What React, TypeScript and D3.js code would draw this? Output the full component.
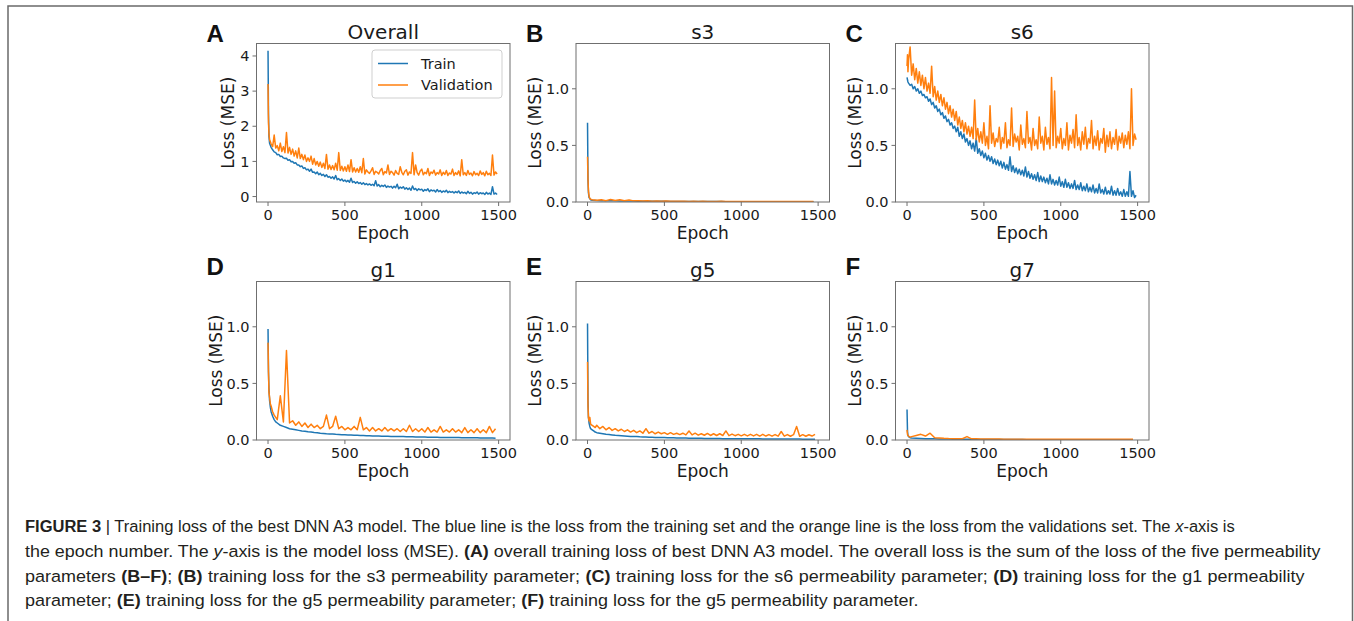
import React, { useLayoutEffect, useRef, useState } from 'react';
import * as d3 from 'd3';

// ---------- DATA ----------
const EPOCH_10 = [0, 3, 6, ...d3.range(10, 1500, 10)];
const EPOCH_20 = [0, 3, 6, 10, 15, 20, 30, 40, 50, ...d3.range(60, 1500, 20)];
const EPOCH_30 = [0, 3, 6, 10, 15, 20, ...d3.range(30, 1500, 30)];

const X_TICKS = [0, 500, 1000, 1500];
const Y_TICKS_OVERALL = [0, 1, 2, 3, 4];
const Y_TICKS_PARAM = [0, 0.5, 1.0];

const SERIES_NAMES = ['Train', 'Validation'];
const PANEL_LETTERS = ['A', 'B', 'C', 'D', 'E', 'F'];
const PANEL_TITLES = ['Overall', 's3', 's6', 'g1', 'g5', 'g7'];

const A_TRAIN = [
  4.15, 2.35, 1.72,
  1.52, 1.40, 1.33, 1.27, 1.25, 1.19, 1.20, 1.14, 1.15, 1.10,
  1.08, 1.09, 1.03, 1.05, 0.99, 1.00, 0.95, 0.96, 0.90, 0.90,
  0.85, 0.87, 0.80, 0.82, 0.76, 0.78, 0.72, 0.78, 0.69, 0.70,
  0.65, 0.70, 0.62, 0.66, 0.60, 0.63, 0.57, 0.62, 0.55, 0.57,
  0.52, 0.56, 0.50, 0.60, 0.48, 0.51, 0.46, 0.50, 0.44, 0.47,
  0.42, 0.46, 0.41, 0.52, 0.40, 0.43, 0.38, 0.42, 0.37, 0.40,
  0.35, 0.39, 0.34, 0.37, 0.33, 0.36, 0.32, 0.35, 0.31, 0.45,
  0.30, 0.34, 0.28, 0.32, 0.29, 0.33, 0.26, 0.30, 0.27, 0.29,
  0.24, 0.29, 0.25, 0.35, 0.22, 0.27, 0.24, 0.28, 0.21, 0.25,
  0.20, 0.24, 0.18, 0.30, 0.20, 0.23, 0.17, 0.22, 0.19, 0.21,
  0.15, 0.20, 0.17, 0.22, 0.14, 0.19, 0.16, 0.18, 0.13, 0.20,
  0.14, 0.17, 0.12, 0.16, 0.13, 0.18, 0.11, 0.15, 0.12, 0.14,
  0.10, 0.14, 0.11, 0.16, 0.09, 0.13, 0.10, 0.12, 0.08, 0.15,
  0.09, 0.12, 0.07, 0.11, 0.09, 0.13, 0.07, 0.11, 0.08, 0.10,
  0.06, 0.12, 0.07, 0.10, 0.06, 0.28, 0.07, 0.10, 0.06,
];
const A_VAL = [
  3.20, 2.10, 1.80,
  1.62, 1.50, 1.42, 1.75, 1.38, 1.45, 1.30, 1.52, 1.28, 1.42,
  1.25, 1.82, 1.24, 1.40, 1.20, 1.35, 1.15, 1.30, 1.10, 1.38,
  1.08, 1.20, 1.05, 1.18, 1.00, 1.10, 1.00, 1.15, 0.92, 1.08,
  0.90, 1.00, 0.86, 0.98, 0.83, 0.95, 0.80, 1.20, 0.78, 0.90,
  0.77, 0.88, 0.76, 0.95, 0.75, 1.25, 0.74, 0.86, 0.73, 0.85,
  0.72, 0.90, 0.71, 1.05, 0.70, 0.82, 0.70, 0.80, 0.69, 0.85,
  0.68, 1.08, 0.64, 0.76, 0.70, 0.66, 0.73, 0.82, 0.63, 0.72,
  0.69, 0.64, 0.74, 0.80, 0.62, 0.71, 0.67, 0.90, 0.63, 0.72,
  0.68, 0.61, 0.74, 0.66, 0.63, 0.85, 0.69, 0.62, 0.72, 0.76,
  0.61, 0.70, 0.66, 1.25, 0.62, 0.90, 0.68, 0.61, 0.73, 0.78,
  0.62, 0.69, 0.65, 0.80, 0.60, 0.70, 0.66, 0.75, 0.61, 0.68,
  0.64, 0.76, 0.60, 0.69, 0.63, 0.74, 0.60, 0.67, 0.64, 0.78,
  0.60, 0.68, 0.63, 0.73, 0.59, 1.05, 0.62, 0.68, 0.60, 0.74,
  0.63, 0.67, 0.59, 0.71, 0.62, 0.66, 0.60, 0.73, 0.63, 0.68,
  0.59, 0.72, 0.62, 0.66, 0.60, 1.18, 0.61, 0.70, 0.64,
];

const B_TRAIN = [
  0.70, 0.20, 0.08, 0.04, 0.03, 0.02,
  0.015, 0.013, 0.012, 0.011, 0.010, 0.010, 0.009, 0.009, 0.008, 0.008,
  0.007, 0.007, 0.007, 0.006, 0.006, 0.006, 0.006, 0.005, 0.005, 0.005,
  0.005, 0.005, 0.004, 0.004, 0.004, 0.004, 0.004, 0.004, 0.004, 0.003,
  0.003, 0.003, 0.003, 0.003, 0.003, 0.003, 0.003, 0.003, 0.003, 0.003,
  0.003, 0.003, 0.003, 0.002, 0.002, 0.002, 0.002, 0.002, 0.002,
];
const B_VAL = [
  0.40, 0.20, 0.10, 0.05, 0.03, 0.025,
  0.020, 0.015, 0.020, 0.012, 0.022, 0.013, 0.020, 0.012, 0.018, 0.010,
  0.012, 0.008, 0.010, 0.007, 0.009, 0.006, 0.008, 0.006, 0.007, 0.006,
  0.006, 0.005, 0.006, 0.005, 0.006, 0.005, 0.005, 0.005, 0.006, 0.005,
  0.005, 0.004, 0.005, 0.004, 0.005, 0.004, 0.004, 0.004, 0.005, 0.004,
  0.004, 0.004, 0.004, 0.004, 0.004, 0.004, 0.004, 0.004, 0.004,
];

const C_TRAIN = [
  1.10, 1.08, 1.06,
  1.05, 1.03, 1.04, 1.00, 1.02, 0.98, 1.00, 0.96, 0.98, 0.94,
  0.95, 0.92, 0.93, 0.89, 0.91, 0.86, 0.88, 0.83, 0.85, 0.80,
  0.82, 0.77, 0.79, 0.74, 0.76, 0.71, 0.73, 0.68, 0.70, 0.65,
  0.67, 0.62, 0.66, 0.58, 0.62, 0.56, 0.60, 0.53, 0.56, 0.50,
  0.54, 0.47, 0.52, 0.45, 0.56, 0.43, 0.47, 0.41, 0.45, 0.39,
  0.43, 0.37, 0.41, 0.36, 0.40, 0.34, 0.38, 0.33, 0.37, 0.32,
  0.36, 0.30, 0.35, 0.29, 0.33, 0.28, 0.40, 0.27, 0.32, 0.26,
  0.30, 0.25, 0.29, 0.24, 0.28, 0.23, 0.31, 0.22, 0.27, 0.21,
  0.25, 0.20, 0.24, 0.19, 0.26, 0.18, 0.23, 0.18, 0.22, 0.17,
  0.21, 0.16, 0.24, 0.16, 0.20, 0.15, 0.19, 0.15, 0.22, 0.14,
  0.18, 0.13, 0.20, 0.13, 0.17, 0.12, 0.16, 0.12, 0.19, 0.11,
  0.15, 0.11, 0.17, 0.10, 0.14, 0.10, 0.16, 0.09, 0.13, 0.09,
  0.15, 0.08, 0.12, 0.08, 0.16, 0.08, 0.11, 0.07, 0.13, 0.07,
  0.10, 0.07, 0.14, 0.06, 0.10, 0.06, 0.12, 0.06, 0.09, 0.05,
  0.11, 0.05, 0.09, 0.05, 0.27, 0.05, 0.10, 0.04, 0.06,
];
const C_VAL = [
  1.20, 1.30, 1.15,
  1.25, 1.37, 1.12, 1.22, 1.08, 1.18, 1.05, 1.15, 1.03, 1.12,
  1.00, 1.10, 0.98, 1.05, 0.96, 1.20, 0.93, 1.02, 0.90, 0.98,
  0.88, 0.95, 0.85, 0.92, 0.82, 0.88, 0.78, 0.85, 0.75, 0.82,
  0.72, 0.80, 0.68, 0.75, 0.65, 0.72, 0.62, 0.70, 0.60, 0.67,
  0.58, 0.66, 0.56, 0.90, 0.55, 0.65, 0.53, 0.62, 0.52, 0.70,
  0.50, 0.58, 0.47, 0.85, 0.52, 0.61, 0.49, 0.56, 0.53, 0.66,
  0.47, 0.57, 0.52, 0.70, 0.48, 0.55, 0.50, 0.83, 0.49, 0.60,
  0.53, 0.58, 0.46, 0.68, 0.51, 0.56, 0.48, 0.80, 0.52, 0.57,
  0.46, 0.65, 0.50, 0.55, 0.47, 0.75, 0.52, 0.58, 0.46, 0.66,
  0.51, 0.57, 0.47, 1.10, 0.50, 0.98, 0.48, 0.58, 0.52, 0.65,
  0.47, 0.56, 0.50, 0.70, 0.46, 0.59, 0.52, 0.64, 0.48, 0.77,
  0.50, 0.57, 0.46, 0.62, 0.51, 0.66, 0.47, 0.56, 0.52, 0.72,
  0.47, 0.58, 0.50, 0.63, 0.46, 0.56, 0.52, 0.65, 0.44, 0.59,
  0.49, 0.62, 0.47, 0.57, 0.51, 0.64, 0.46, 0.58, 0.52, 0.61,
  0.48, 0.59, 0.51, 0.62, 0.47, 1.00, 0.50, 0.60, 0.55,
];

const D_TRAIN = [
  0.98, 0.60, 0.45, 0.35, 0.29, 0.25, 0.21, 0.18, 0.16,
  0.150, 0.130, 0.120, 0.110, 0.100, 0.095, 0.090, 0.085, 0.080, 0.078,
  0.072, 0.070, 0.066, 0.064, 0.060, 0.058, 0.055, 0.054, 0.052, 0.050,
  0.049, 0.047, 0.046, 0.045, 0.044, 0.042, 0.041, 0.040, 0.039, 0.038,
  0.037, 0.036, 0.036, 0.035, 0.034, 0.033, 0.033, 0.032, 0.031, 0.031,
  0.030, 0.030, 0.029, 0.028, 0.028, 0.027, 0.027, 0.026, 0.026, 0.025,
  0.025, 0.024, 0.024, 0.023, 0.023, 0.022, 0.022, 0.022, 0.021, 0.021,
  0.020, 0.020, 0.020, 0.019, 0.019, 0.019, 0.018, 0.018, 0.018, 0.017,
  0.017, 0.016,
];
const D_VAL = [
  0.86, 0.60, 0.42, 0.38, 0.32, 0.30, 0.25, 0.22, 0.20,
  0.18, 0.39, 0.16, 0.79, 0.15, 0.17, 0.13, 0.16, 0.12, 0.15,
  0.11, 0.14, 0.11, 0.13, 0.10, 0.12, 0.22, 0.10, 0.12, 0.21,
  0.10, 0.12, 0.09, 0.11, 0.09, 0.12, 0.09, 0.20, 0.09, 0.11,
  0.08, 0.11, 0.08, 0.10, 0.08, 0.11, 0.08, 0.10, 0.08, 0.10,
  0.075, 0.10, 0.075, 0.13, 0.075, 0.10, 0.075, 0.10, 0.07, 0.11,
  0.07, 0.09, 0.07, 0.12, 0.07, 0.09, 0.07, 0.10, 0.07, 0.09,
  0.065, 0.11, 0.065, 0.09, 0.065, 0.10, 0.065, 0.09, 0.065, 0.12,
  0.065, 0.10,
];

const E_TRAIN = [
  1.03, 0.35, 0.20, 0.15, 0.12, 0.10, 0.09, 0.08, 0.07,
  0.065, 0.060, 0.055, 0.050, 0.048, 0.045, 0.042, 0.040, 0.038, 0.036,
  0.034, 0.032, 0.031, 0.030, 0.028, 0.027, 0.026, 0.025, 0.024, 0.023,
  0.022, 0.021, 0.021, 0.020, 0.019, 0.019, 0.018, 0.018, 0.017, 0.017,
  0.016, 0.016, 0.015, 0.015, 0.015, 0.014, 0.014, 0.014, 0.013, 0.013,
  0.013, 0.012, 0.012, 0.012, 0.012, 0.011, 0.011, 0.011, 0.011, 0.010,
  0.010, 0.010, 0.010, 0.010, 0.009, 0.009, 0.009, 0.009, 0.009, 0.009,
  0.008, 0.008, 0.008, 0.008, 0.008, 0.008, 0.008, 0.007, 0.007, 0.007,
  0.007, 0.007,
];
const E_VAL = [
  0.69, 0.30, 0.20, 0.17, 0.20, 0.14, 0.13, 0.12, 0.11,
  0.13, 0.10, 0.12, 0.09, 0.11, 0.085, 0.10, 0.08, 0.095, 0.075,
  0.09, 0.07, 0.085, 0.065, 0.08, 0.06, 0.10, 0.06, 0.075, 0.055,
  0.07, 0.055, 0.065, 0.05, 0.065, 0.05, 0.06, 0.048, 0.06, 0.045,
  0.08, 0.045, 0.06, 0.043, 0.055, 0.042, 0.058, 0.04, 0.055, 0.04,
  0.055, 0.04, 0.08, 0.038, 0.052, 0.038, 0.05, 0.037, 0.05, 0.036,
  0.05, 0.036, 0.05, 0.035, 0.05, 0.035, 0.048, 0.034, 0.048, 0.034,
  0.075, 0.034, 0.048, 0.033, 0.047, 0.12, 0.033, 0.047, 0.033, 0.046,
  0.035, 0.05,
];

const F_TRAIN = [
  0.27, 0.08, 0.04, 0.03, 0.025, 0.02,
  0.018, 0.016, 0.014, 0.012, 0.011, 0.010, 0.009, 0.008, 0.008, 0.007,
  0.007, 0.006, 0.006, 0.006, 0.005, 0.005, 0.005, 0.005, 0.004, 0.004,
  0.004, 0.004, 0.004, 0.004, 0.004, 0.003, 0.003, 0.003, 0.003, 0.003,
  0.003, 0.003, 0.003, 0.003, 0.003, 0.003, 0.003, 0.003, 0.003, 0.003,
  0.003, 0.003, 0.002, 0.002, 0.002, 0.002, 0.002, 0.002, 0.002,
];
const F_VAL = [
  0.09, 0.05, 0.04, 0.035, 0.03, 0.025,
  0.030, 0.040, 0.050, 0.035, 0.060, 0.020, 0.018, 0.015, 0.013, 0.012,
  0.012, 0.011, 0.030, 0.010, 0.010, 0.009, 0.009, 0.008, 0.008, 0.008,
  0.007, 0.007, 0.007, 0.007, 0.007, 0.007, 0.007, 0.007, 0.007, 0.007,
  0.006, 0.006, 0.006, 0.006, 0.006, 0.006, 0.006, 0.006, 0.006, 0.006,
  0.006, 0.006, 0.006, 0.006, 0.006, 0.006, 0.006, 0.006, 0.006,
];

type Seg = [string, 'n' | 'b' | 'i'];
const CAPTION_LINES: Seg[][] = [
  [
    ['FIGURE 3 ', 'b'],
    ['| Training loss of the best DNN A3 model. The blue line is the loss from the training set and the orange line is the loss from the validations set. The ', 'n'],
    ['x', 'i'],
    ['-axis is', 'n'],
  ],
  [
    ['the epoch number. The ', 'n'],
    ['y', 'i'],
    ['-axis is the model loss (MSE). ', 'n'],
    ['(A)', 'b'],
    [' overall training loss of best DNN A3 model. The overall loss is the sum of the loss of the five permeability', 'n'],
  ],
  [
    ['parameters ', 'n'],
    ['(B–F)', 'b'],
    ['; ', 'n'],
    ['(B)', 'b'],
    [' training loss for the s3 permeability parameter; ', 'n'],
    ['(C)', 'b'],
    [' training loss for the s6 permeability parameter; ', 'n'],
    ['(D)', 'b'],
    [' training loss for the g1 permeability', 'n'],
  ],
  [
    ['parameter; ', 'n'],
    ['(E)', 'b'],
    [' training loss for the g5 permeability parameter; ', 'n'],
    ['(F)', 'b'],
    [' training loss for the g5 permeability parameter.', 'n'],
  ],
];

// ---------- LAYOUT ----------
const W = 1354;
const H = 621;
const COL_LEFT = [256.5, 576, 895.5];
const ROW_TOP = [43.5, 281.5];
const PW = 253.5;
const PH = 158.5;
const LETTER_BASE = [42, 275];
const TITLE_BASE = [38.5, 276.5];
const CAP_BASE = [532, 557, 581.5, 606];
const CAP_LEN = [1211, 1297, 1280, 894];
const CAP_X = 25;

const BLUE = '#1f77b4';
const ORANGE = '#ff7f0e';
const SPINE = '#6f6f6f';
const TXT = '#1a1a1a';
const FONT = "'DejaVu Sans', Verdana, sans-serif";

interface PanelSpec {
  idx: number;
  epochs: number[];
  train: number[];
  val: number[];
  yDomain: [number, number];
  yTicks: number[];
  fmt: (v: number) => string;
  legend: boolean;
  yLabelOff: number;
}

const fmtInt = (v: number) => d3.format('d')(v);
const fmt1 = (v: number) => d3.format('.1f')(v);

const PANELS: PanelSpec[] = [
  { idx: 0, epochs: EPOCH_10, train: A_TRAIN, val: A_VAL, yDomain: [-0.155, 4.355], yTicks: Y_TICKS_OVERALL, fmt: fmtInt, legend: true, yLabelOff: 22.5 },
  { idx: 1, epochs: EPOCH_30, train: B_TRAIN, val: B_VAL, yDomain: [0, 1.4], yTicks: Y_TICKS_PARAM, fmt: fmt1, legend: false, yLabelOff: 35 },
  { idx: 2, epochs: EPOCH_10, train: C_TRAIN, val: C_VAL, yDomain: [0, 1.4], yTicks: Y_TICKS_PARAM, fmt: fmt1, legend: false, yLabelOff: 35 },
  { idx: 3, epochs: EPOCH_20, train: D_TRAIN, val: D_VAL, yDomain: [0, 1.4], yTicks: Y_TICKS_PARAM, fmt: fmt1, legend: false, yLabelOff: 35 },
  { idx: 4, epochs: EPOCH_20, train: E_TRAIN, val: E_VAL, yDomain: [0, 1.4], yTicks: Y_TICKS_PARAM, fmt: fmt1, legend: false, yLabelOff: 35 },
  { idx: 5, epochs: EPOCH_30, train: F_TRAIN, val: F_VAL, yDomain: [0, 1.4], yTicks: Y_TICKS_PARAM, fmt: fmt1, legend: false, yLabelOff: 35 },
];

function Panel({ p }: { p: PanelSpec }) {
  const col = p.idx % 3;
  const row = Math.floor(p.idx / 3);
  const left = COL_LEFT[col];
  const top = ROW_TOP[row];
  const right = left + PW;
  const bottom = top + PH;
  const x = d3.scaleLinear().domain([-75, 1574]).range([left, right]);
  const y = d3.scaleLinear().domain(p.yDomain).range([bottom, top]);
  const mk = (vals: number[]) => {
    const n = Math.min(vals.length, p.epochs.length);
    const pts = vals.slice(0, n).map((v, i) => [p.epochs[i], v] as [number, number]);
    return d3.line<[number, number]>().x((d) => x(d[0])).y((d) => y(d[1]))(pts) || '';
  };
  const clipId = `clip-${p.idx}`;
  const midX = (left + right) / 2;
  const midY = (top + bottom) / 2;
  return (
    <g>
      <defs>
        <clipPath id={clipId}>
          <rect x={left} y={top} width={PW} height={PH} />
        </clipPath>
      </defs>
      <g clipPath={`url(#${clipId})`}>
        <path d={mk(p.train)} fill="none" stroke={BLUE} strokeWidth={1.5} strokeLinejoin="round" />
        <path d={mk(p.val)} fill="none" stroke={ORANGE} strokeWidth={1.5} strokeLinejoin="round" />
      </g>
      <rect x={left} y={top} width={PW} height={PH} fill="none" stroke={SPINE} strokeWidth={1} />
      {X_TICKS.map((t) => (
        <g key={`x${t}`}>
          <line x1={x(t)} x2={x(t)} y1={bottom} y2={bottom + 4} stroke={SPINE} strokeWidth={1} />
          <text x={x(t)} y={bottom + 18} textAnchor="middle" fontSize={14.5} fontFamily={FONT} fill={TXT}>
            {t}
          </text>
        </g>
      ))}
      {p.yTicks.map((t) => (
        <g key={`y${t}`}>
          <line x1={left - 4} x2={left} y1={y(t)} y2={y(t)} stroke={SPINE} strokeWidth={1} />
          <text x={left - 7} y={y(t)} dy="0.36em" textAnchor="end" fontSize={14.5} fontFamily={FONT} fill={TXT}>
            {p.fmt(t)}
          </text>
        </g>
      ))}
      <text x={midX} y={bottom + 37} textAnchor="middle" fontSize={17} fontFamily={FONT} fill={TXT}>
        Epoch
      </text>
      <text
        transform={`translate(${left - p.yLabelOff},${midY}) rotate(-90)`}
        textAnchor="middle"
        fontSize={17}
        fontFamily={FONT}
        fill={TXT}
      >
        Loss (MSE)
      </text>
      <text x={midX} y={TITLE_BASE[row]} textAnchor="middle" fontSize={20} fontFamily={FONT} fill={TXT}>
        {PANEL_TITLES[p.idx]}
      </text>
      <text x={left - 50} y={LETTER_BASE[row]} fontSize={24} fontWeight="bold" fontFamily="'Liberation Sans', Arial, sans-serif" fill="#111">
        {PANEL_LETTERS[p.idx]}
      </text>
      {p.legend && (
        <g>
          <rect x={372} y={50} width={130} height={48} rx={3} fill="white" fillOpacity={0.8} stroke="#cfcfcf" strokeWidth={1} />
          {SERIES_NAMES.map((name, i) => (
            <g key={name}>
              <line x1={378} x2={408} y1={63.5 + i * 21.5} y2={63.5 + i * 21.5} stroke={i === 0 ? BLUE : ORANGE} strokeWidth={1.5} />
              <text x={421} y={63.5 + i * 21.5} dy="0.36em" fontSize={14.5} fontFamily={FONT} fill={TXT}>
                {name}
              </text>
            </g>
          ))}
        </g>
      )}
    </g>
  );
}

interface CapFit {
  scale: number;
  word: number;
}

export default function App() {
  const capRefs = useRef<(SVGTextElement | null)[]>([]);
  const [fit, setFit] = useState<CapFit[]>(CAP_LEN.map(() => ({ scale: 1, word: 0 })));
  useLayoutEffect(() => {
    const nat = capRefs.current.map((el) => (el ? el.getComputedTextLength() : 0));
    if (nat.some((w) => !(w > 0))) return;
    // glyph width taken from the last (unjustified) line
    const base = CAP_LEN[3] / nat[3];
    const res = nat.map((w, i) => {
      const plain = w * base;
      if (plain >= CAP_LEN[i] || i === 3) {
        return { scale: CAP_LEN[i] / w, word: 0 };
      }
      const spaces = CAPTION_LINES[i].map((s) => s[0]).join('').split(' ').length - 1;
      const extra = (CAP_LEN[i] - plain) / base / Math.max(1, spaces);
      return { scale: base, word: extra };
    });
    setFit(res);
  }, []);
  return (
    <svg
      width={W}
      height={H}
      viewBox={`0 0 ${W} ${H}`}
      style={{ position: 'absolute', left: 0, top: 0, background: 'white' }}
    >
      <rect x={0} y={0} width={W} height={H} fill="white" />
      <path d={`M8,${H + 2} V6 H1352.5 V${H + 2}`} fill="none" stroke="#6a6a6a" strokeWidth={1.5} />
      {PANELS.map((p) => (
        <Panel key={p.idx} p={p} />
      ))}
      {CAPTION_LINES.map((segs, li) => (
        <g key={li} transform={`translate(${CAP_X},${CAP_BASE[li]}) scale(${fit[li].scale},1)`}>
          <text
            ref={(el) => {
              capRefs.current[li] = el;
            }}
            x={0}
            y={0}
            fontSize={17}
            fontFamily="'Liberation Sans', Arial, sans-serif"
            fill="#231f20"
            style={{ wordSpacing: `${fit[li].word}px` }}
          >
            {segs.map(([s, st], si) => (
              <tspan
                key={si}
                fontWeight={st === 'b' ? 'bold' : 'normal'}
                fontStyle={st === 'i' ? 'italic' : 'normal'}
              >
                {s}
              </tspan>
            ))}
          </text>
        </g>
      ))}
    </svg>
  );
}
